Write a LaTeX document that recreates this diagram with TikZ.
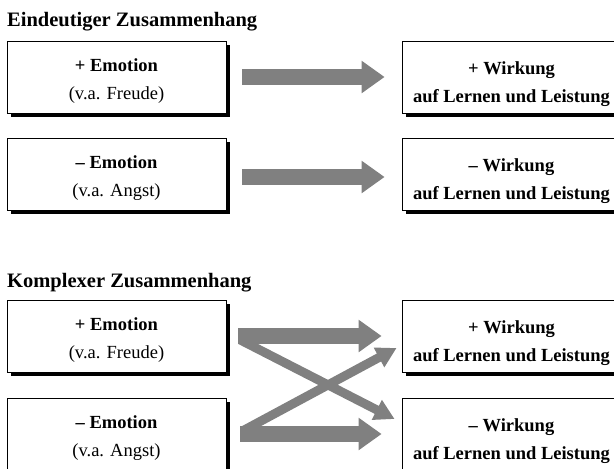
\documentclass[tikz,border=0pt]{standalone}
\usepackage{fontspec}
\setmainfont{Liberation Serif}
\usetikzlibrary{arrows.meta,shadows}
\definecolor{arrowgrey}{RGB}{128,128,128}
\newcommand\lstrut{\rule{0pt}{20pt}}
\newcommand\rstrut{\rule{0pt}{28pt}}
\begin{document}
\begin{tikzpicture}[x=1pt,y=-1pt,
  box/.style={draw,line width=.8pt,fill=white,minimum width=219pt,minimum height=72pt,
    inner sep=2pt,align=center,font=\fontsize{18.5}{28}\selectfont,
    drop shadow={shadow xshift=4pt,shadow yshift=-4pt,fill=black,opacity=1}},
  title/.style={anchor=base west,inner sep=0pt,font=\fontsize{20.5}{24}\selectfont\bfseries},
  fat/.style={arrowgrey,line width=16.5pt,-{Triangle[width=31pt,length=23pt]}},
  thin/.style={arrowgrey,line width=9pt,-{Triangle[width=21pt,length=20pt]}}]
\useasboundingbox (0,0) rectangle (614,469);
% eindeutig
\node[title] (t1) at (7,26) {Eindeutiger Zusammenhang};
\node[box] (e1p) at (116.5,77) {\lstrut\textbf{+ Emotion}\\(v.a. Freude)};
\node[box] (e1n) at (116.5,174) {\lstrut\textbf{– Emotion}\\(v.a. Angst)};
\node[box] (w1p) at (511.5,77) {\rstrut\textbf{+ Wirkung}\\\textbf{auf Lernen und Leistung}};
\node[box] (w1n) at (511.5,174) {\rstrut\textbf{– Wirkung}\\\textbf{auf Lernen und Leistung}};
\draw[fat] ([xshift=16pt]e1p.east) -- ([xshift=-17pt]w1p.west);
\draw[fat] ([xshift=16pt,yshift=-3pt]e1n.east) -- ([xshift=-17pt,yshift=-3pt]w1n.west);
% komplex
\node[title] (t2) at (7,287) {Komplexer Zusammenhang};
\node[box] (e2p) at (116.5,336) {\lstrut\textbf{+ Emotion}\\(v.a. Freude)};
\node[box] (e2n) at (116.5,434) {\lstrut\textbf{– Emotion}\\(v.a. Angst)};
\node[box] (w2p) at (511.5,336) {\rstrut\textbf{+ Wirkung}\\\textbf{auf Lernen und Leistung}};
\node[box] (w2n) at (511.5,434) {\rstrut\textbf{– Wirkung}\\\textbf{auf Lernen und Leistung}};
\draw[thin] ([xshift=14pt,yshift=-4pt]e2p.east) -- ([xshift=-7pt,yshift=15pt]w2n.west);
\draw[thin] ([xshift=16pt,yshift=3pt]e2n.east) -- ([xshift=-5pt,yshift=-12pt]w2p.west);
\draw[fat] ([xshift=12pt]e2p.east) -- ([xshift=-20pt]w2p.west);
\draw[fat] ([xshift=14pt]e2n.east) -- ([xshift=-20pt]w2n.west);
\end{tikzpicture}
\end{document}
